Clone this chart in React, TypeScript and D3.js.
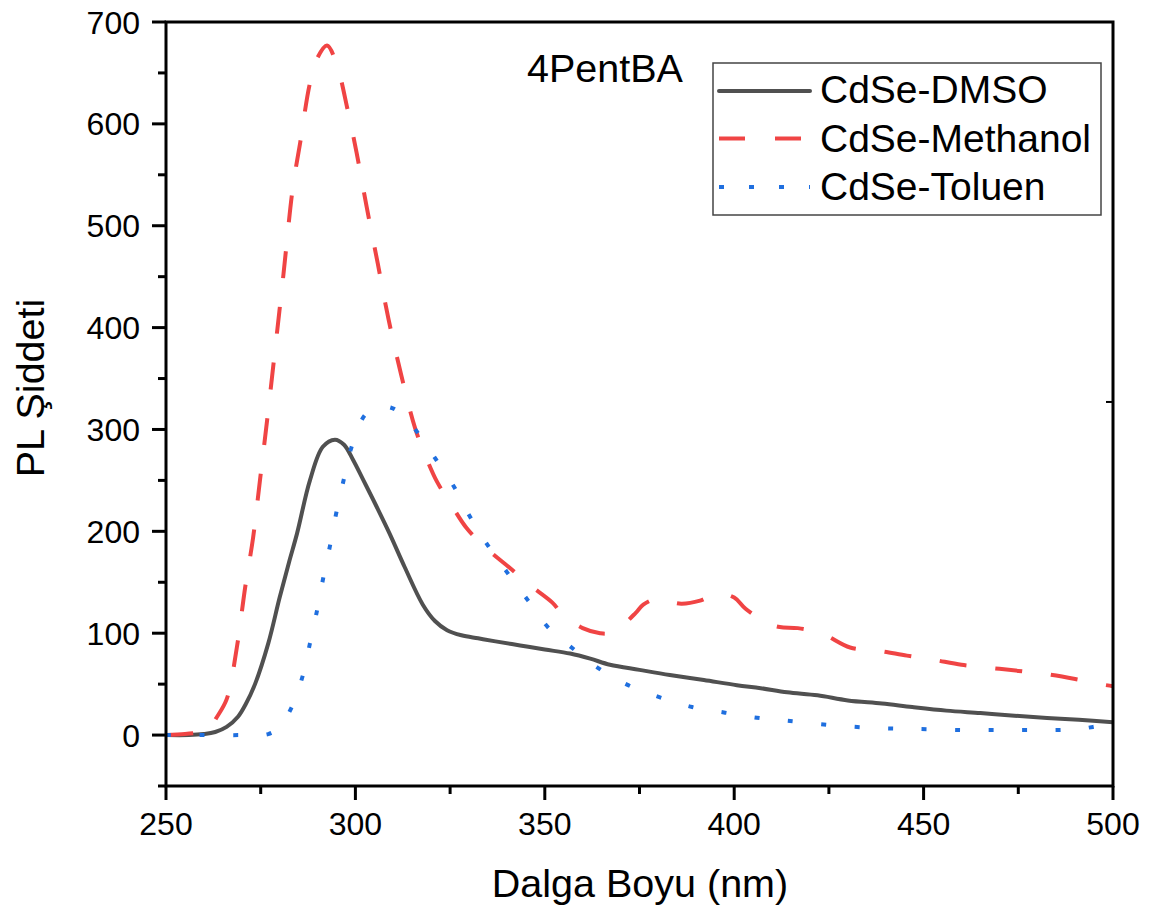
import React from "react";
import * as d3 from "d3";

const W = 1162;
const H = 914;

const xTicks = [250, 300, 350, 400, 450, 500];
const xMinor = [275, 325, 375, 425, 475];
const yTicks = [0, 100, 200, 300, 400, 500, 600, 700];
const yMinor = [-50, 50, 150, 250, 350, 450, 550, 650];

const seriesNames = ["CdSe-DMSO", "CdSe-Methanol", "CdSe-Toluen"];

const dmsoX = [250, 256, 260, 263, 266, 269, 271, 273.5, 277, 280, 282.5, 284.6, 288, 291.4, 294.6, 297, 299.4, 302, 304.7, 309, 313, 317.8, 321, 324.2, 328, 332.4, 337, 343.5, 350, 356.7, 362, 367.2, 375, 383, 392, 400.7, 407, 414, 422, 430, 439, 447, 456, 465, 474, 482.6, 491, 500];
const dmsoY = [0, 0, 1, 3, 8, 18, 30, 50, 90, 135, 170, 198, 250, 283, 290, 285, 270, 251, 231, 198, 165, 128, 112, 103, 98, 95, 92, 88, 84, 80, 75, 69, 64, 59, 54, 49, 46, 42, 39, 34, 31, 27.5, 24, 21.6, 19, 16.7, 15, 12.7];

const methX = [250, 255, 258, 260, 262, 263, 266, 268.7, 270.9, 273, 274.8, 276.6, 279, 281, 283.5, 285.4, 288, 290, 292.5, 295, 298, 300.3, 303, 305.9, 308.7, 312, 315.7, 318.4, 321.5, 325, 329.4, 334.7, 340.8, 345.4, 352, 354.8, 360, 364.6, 367, 370.6, 374, 376, 379.6, 382, 386, 391, 395.5, 400, 403, 408.7, 412, 416.8, 423, 430.6, 437.7, 445.6, 452.5, 460, 467.5, 475, 482, 490, 496.6, 500];
const methY = [0, 1, 2, 3, 8, 15, 35, 86, 145, 194, 250, 306, 385, 452, 538, 581, 640, 665, 677, 659, 613, 572, 518, 463, 409, 355, 302, 275, 249, 228, 203, 183, 164, 149, 130, 118, 105, 100, 100, 108, 120, 128, 134, 132, 129, 132, 139, 135, 124, 110, 106, 105, 100, 86, 83, 78, 74, 69, 66, 63, 60, 55, 50, 48];

const tolX = [250, 260, 270, 277, 280, 283, 286, 288, 289.8, 291.5, 293.3, 295, 297, 299, 302.5, 306, 309.7, 313, 316, 321, 326, 330, 335, 340, 345.6, 350.8, 357.4, 364, 372, 380.4, 388.9, 397.6, 406, 414, 425, 437, 448, 459.6, 470, 480, 486, 491, 494.7, 500];
const tolY = [0, 0, 0, 1, 8, 26, 57, 90, 121, 154, 186, 219, 252, 283, 314, 322, 321, 312, 299, 272, 244, 216, 186, 160, 132, 106, 85, 66, 49, 37, 27.5, 22, 17, 14, 10, 7, 6, 5, 5, 5, 5, 6, 8, 12];

const colors = ["#505050", "#f04444", "#1f6fdf"];
const dashes = ["none", "27,29", "5,28.5"];

const FONT = "'Liberation Sans', Arial, sans-serif";

export default function App() {
  const left = 166, right = 1113, top = 22, bottom = 786;
  const x = d3.scaleLinear().domain([250, 500]).range([left, right]);
  const y = d3.scaleLinear().domain([-50, 700]).range([bottom, top]);

  const line = d3
    .line<[number, number]>()
    .x((d) => x(d[0]))
    .y((d) => y(d[1]))
    .curve(d3.curveCatmullRom.alpha(0.5));

  const data = [
    dmsoX.map((v, i) => [v, dmsoY[i]] as [number, number]),
    methX.map((v, i) => [v, methY[i]] as [number, number]),
    tolX.map((v, i) => [v, tolY[i]] as [number, number]),
  ];

  const legendX = 713, legendY = 63, legendW = 388, legendH = 152;
  const rowY = [91, 138.5, 187];
  const textBase = [103, 152, 200];

  return (
    <svg
      width={W}
      height={H}
      style={{ position: "absolute", left: 0, top: 0, background: "#fff" }}
      fontFamily={FONT}
    >
      <rect x={0} y={0} width={W} height={H} fill="#fff" />
      <defs>
        <clipPath id="plotclip">
          <rect x={left} y={top} width={right - left} height={bottom - top} />
        </clipPath>
      </defs>

      <g clipPath="url(#plotclip)">
        {data.map((d, i) => (
          <path
            key={i}
            d={line(d) || ""}
            fill="none"
            stroke={colors[i]}
            strokeWidth={4}
            strokeDasharray={dashes[i]}
            strokeLinejoin="round"
          />
        ))}
      </g>

      <rect x={left} y={top} width={right - left} height={bottom - top} fill="none" stroke="#000" strokeWidth={3} />

      {yTicks.map((t) => (
        <g key={"y" + t}>
          <line x1={left - 14} x2={left} y1={y(t)} y2={y(t)} stroke="#000" strokeWidth={3} />
          <text x={140} y={y(t)} dy="0.36em" textAnchor="end" fontSize={32} fill="#000">
            {t}
          </text>
        </g>
      ))}
      {yMinor.map((t) => (
        <line key={"ym" + t} x1={left - 8} x2={left} y1={y(t)} y2={y(t)} stroke="#000" strokeWidth={3} />
      ))}
      <line x1={right - 7} x2={right} y1={y(327)} y2={y(327)} stroke="#000" strokeWidth={2} />

      {xTicks.map((t) => (
        <g key={"x" + t}>
          <line x1={x(t)} x2={x(t)} y1={bottom} y2={bottom + 14} stroke="#000" strokeWidth={3} />
          <text x={x(t)} y={835} textAnchor="middle" fontSize={32} fill="#000">
            {t}
          </text>
        </g>
      ))}
      {xMinor.map((t) => (
        <line key={"xm" + t} x1={x(t)} x2={x(t)} y1={bottom} y2={bottom + 8} stroke="#000" strokeWidth={3} />
      ))}

      <text x={640} y={897} textAnchor="middle" fontSize={39.5} fill="#000">
        Dalga Boyu (nm)
      </text>
      <text transform={`translate(44, 388) rotate(-90)`} textAnchor="middle" fontSize={39.5} fill="#000">
        PL Şiddeti
      </text>

      <text x={527} y={82} fontSize={39.5} fill="#000">
        4PentBA
      </text>

      <rect x={legendX} y={legendY} width={legendW} height={legendH} fill="#fff" stroke="#444" strokeWidth={1.5} />
      {seriesNames.map((n, i) => (
        <g key={n}>
          <line
            x1={719}
            x2={810}
            y1={rowY[i]}
            y2={rowY[i]}
            stroke={colors[i]}
            strokeWidth={4}
            strokeDasharray={i === 1 ? "26,30" : i === 2 ? "5,25" : "none"}
            strokeLinecap={i === 0 ? "round" : "butt"}
          />
          <text x={820} y={textBase[i]} fontSize={39} fill="#000">
            {n}
          </text>
        </g>
      ))}
    </svg>
  );
}
